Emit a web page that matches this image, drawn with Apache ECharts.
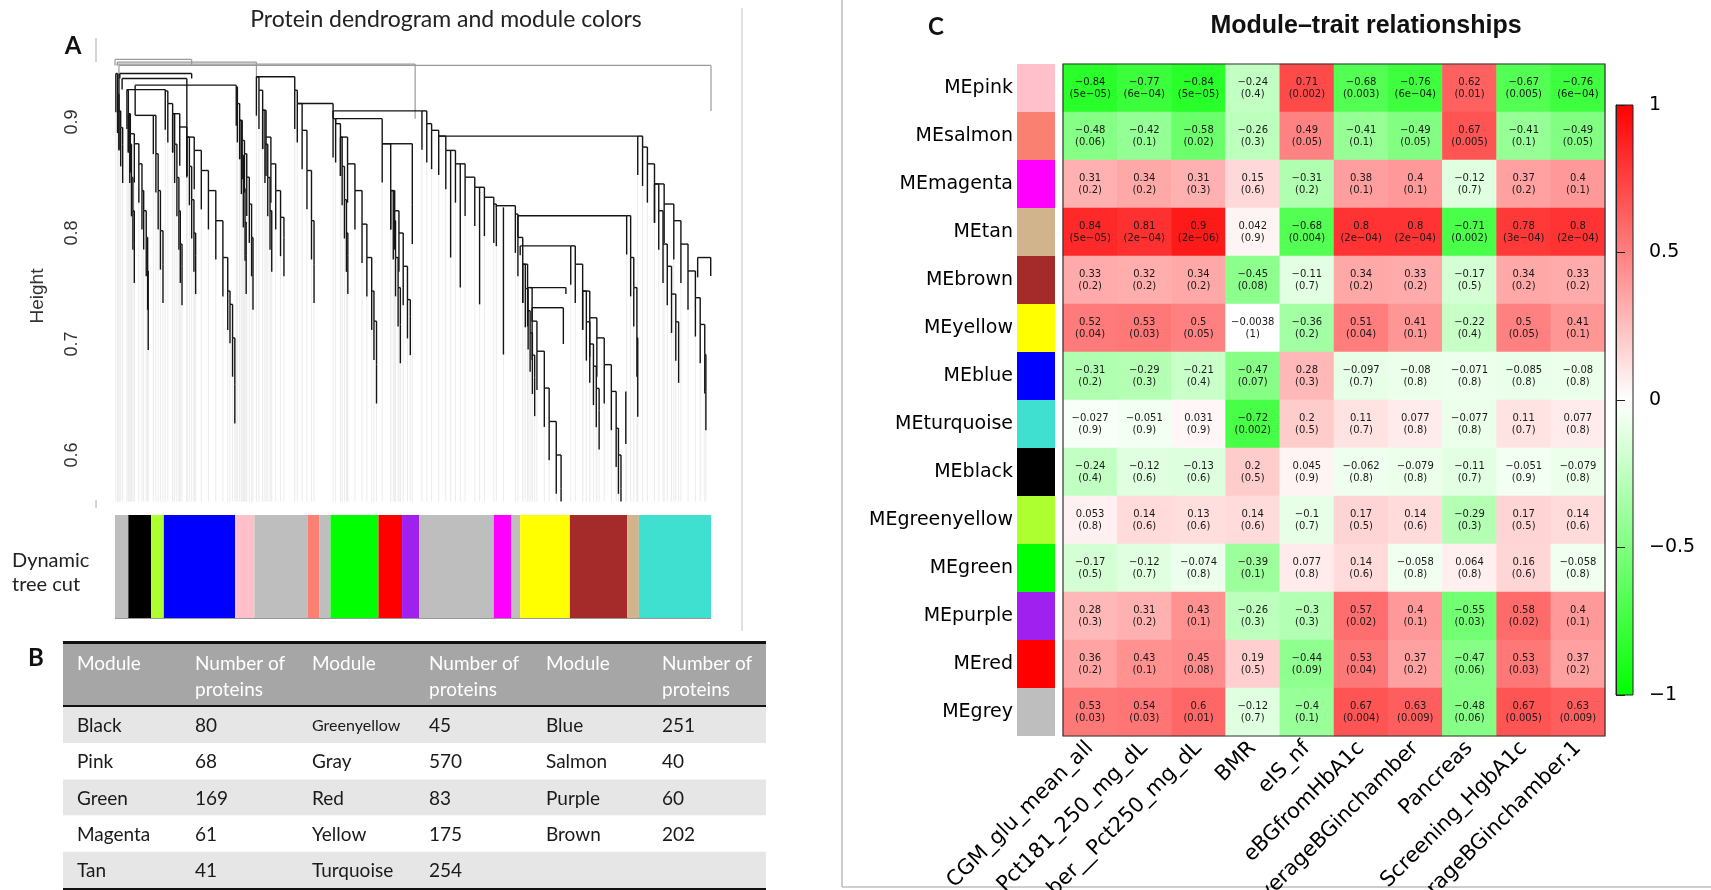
<!DOCTYPE html>
<html>
<head>
<meta charset="utf-8">
<title>Protein modules</title>
<script src="https://cdn.jsdelivr.net/npm/echarts@6/dist/echarts.min.js"></script>
<style>
  html, body { margin: 0; padding: 0; background: #fff; }
  #chart { width: 1711px; height: 890px; }
</style>
</head>
<body>
<div id="chart"></div>
<script>
// ---------- A: dendrogram (leaf index, merge height) ----------
const leafCount = 2099
const greyEdge = [[3, 0.9437], [9, 0.925], [14, 0.91], [20, 0.895], [27, 0.88]]
const blackBranch = [[42, 0.9286], [47, 0.9075], [54, 0.8894], [68, 0.8804], [84, 0.8623], [95, 0.8382], [101, 0.8201], [110, 0.796], [115, 0.7658], [117, 0.7297]]
const blackSide = [[47, 0.9075], [52, 0.88], [58, 0.85], [63, 0.82], [68, 0.79]]
const greenyellowBranch = [[135, 0.906], [144, 0.8714], [152, 0.8382], [160, 0.802], [169, 0.7719]]
const blueBranch = [[177, 0.928], [186, 0.9166], [203, 0.9075], [228, 0.8955], [253, 0.8864], [279, 0.8744], [304, 0.8563], [329, 0.8382], [355, 0.8111], [380, 0.7779], [397, 0.7477], [405, 0.7357], [414, 0.7055], [422, 0.6633]]
const blueSide1 = [[203, 0.9075], [210, 0.88], [218, 0.85], [225, 0.82], [230, 0.79], [236, 0.77]]
const blueSide2 = [[253, 0.8864], [262, 0.86], [270, 0.83], [278, 0.80], [284, 0.78]]
const pinkBranch = [[427, 0.9317], [431, 0.9166], [439, 0.9015], [448, 0.8834], [456, 0.8714], [464, 0.8503], [473, 0.8261], [481, 0.796], [486, 0.7658]]
const pinkSide = [[439, 0.9015], [445, 0.87], [452, 0.84], [458, 0.81], [462, 0.78]]
const midGreyBranch = [[498, 0.9407], [507, 0.9286], [520, 0.9106], [532, 0.8864], [549, 0.8623], [566, 0.8382], [583, 0.8141], [595, 0.796]]
const midGreySide = [[520, 0.9106], [528, 0.88], [538, 0.85], [546, 0.82], [552, 0.80]]
const salmonBranch = [[633, 0.9286], [642, 0.9166], [659, 0.8925], [676, 0.8563], [692, 0.8111], [701, 0.7719]]
const greenBranch = [[768, 0.903], [777, 0.8985], [794, 0.8864], [819, 0.8623], [845, 0.8382], [870, 0.808], [887, 0.7779], [904, 0.7477], [912, 0.7206], [921, 0.6814]]
const greenSide = [[794, 0.8864], [800, 0.86], [808, 0.83], [815, 0.80], [820, 0.78]]
const redBranch = [[941, 0.8804], [971, 0.8382], [980, 0.8111], [988, 0.7779], [997, 0.7508], [1005, 0.7176]]
const redSide = [[971, 0.8382], [985, 0.82], [1000, 0.80], [1015, 0.77], [1030, 0.74], [1040, 0.725]]
const greyBranch = [[1081, 0.91], [1098, 0.8985], [1115, 0.8925], [1140, 0.8873], [1165, 0.8744], [1199, 0.8623], [1233, 0.8503], [1267, 0.8412], [1301, 0.8322], [1334, 0.8261], [1343, 0.8231]]
const yellowBranch = [[1410, 0.8171], [1419, 0.796], [1436, 0.7719], [1453, 0.7508], [1469, 0.7206], [1486, 0.6935], [1512, 0.6603], [1529, 0.6302], [1554, 0.6], [1571, 0.5699]]
const yellowSide = [[1436, 0.7719], [1445, 0.75], [1455, 0.73], [1462, 0.71], [1470, 0.69], [1478, 0.67]]
const brownBranch = [[1605, 0.7884], [1621, 0.7719], [1647, 0.7477], [1672, 0.7236], [1697, 0.7055], [1723, 0.6814], [1748, 0.6573], [1765, 0.6241], [1773, 0.6], [1782, 0.5699]]
const brownSide = [[1647, 0.7477], [1660, 0.72], [1672, 0.70], [1685, 0.68], [1695, 0.66], [1705, 0.64]]
const tanBranch = [[1802, 0.8156], [1816, 0.7779], [1827, 0.7508], [1838, 0.7055], [1841, 0.6694]]
const turquoiseBranch = [[1841, 0.8873], [1858, 0.8774], [1875, 0.8623], [1900, 0.8442], [1934, 0.8261], [1968, 0.8111], [1993, 0.79], [2018, 0.7658], [2044, 0.7417], [2061, 0.7176], [2077, 0.6905], [2081, 0.6573]]
const turquoiseSide = [[1900, 0.8442], [1915, 0.82], [1930, 0.79], [1945, 0.77], [1960, 0.745], [1975, 0.72], [1985, 0.70]]

// [left leaf, right leaf, merge height, left child height, right child height]
const dendroMerges = [
    [0, 270, 0.9564, 0.951, 0.951], [8, 498, 0.954, 0.951, 0.9407], [8, 1057, 0.9522, 0.951, 0.903],
    [14, 2099, 0.951, 0.9437, 0.91], [17, 270, 0.9437, 0.9392, 0.9392], [25, 253, 0.9392, 0.9292, 0.8894],
    [42, 177, 0.9292, 0.9286, 0.928], [71, 427, 0.9332, 0.906, 0.9317], [71, 135, 0.906, 0.906, 0.906],
    [498, 633, 0.9407, 0.9407, 0.9286], [642, 768, 0.9166, 0.9166, 0.903], [768, 1081, 0.91, 0.903, 0.91],
    [777, 941, 0.903, 0.8985, 0.8804], [941, 1047, 0.8804, 0.8804, 0.826], [1140, 1841, 0.8873, 0.8873, 0.8873],
    [1343, 1410, 0.8246, 0.8231, 0.8171], [1419, 1802, 0.8156, 0.796, 0.8156], [1427, 1605, 0.7884, 0.78, 0.7884],
    [1461, 1588, 0.7508, 0.7508, 0.745], [1469, 1579, 0.7327, 0.72, 0.70], [2052, 2098, 0.7779, 0.76, 0.7613]
]
// long single stems [leaf, top, bottom]
const dendroStems = [[14, 0.9437, 0.8744], [253, 0.8894, 0.85], [1182, 0.8744, 0.7779], [1216, 0.8623, 0.7508], [1284, 0.8412, 0.7357], [1368, 0.8231, 0.6905], [1799, 0.6573, 0.61], [1047, 0.826, 0.79]]

// dynamic tree cut colour bar, left to right
const barModules = ['grey', 'black', 'greenyellow', 'blue', 'pink', 'grey', 'salmon', 'grey', 'green', 'red', 'purple', 'grey', 'magenta', 'grey', 'yellow', 'brown', 'tan', 'turquoise']
const barCounts = [47, 80, 45, 251, 68, 188, 40, 40, 169, 83, 60, 263, 61, 32, 175, 202, 41, 254]

// ---------- B: module sizes ----------
const tableModules1 = ['Black', 'Pink', 'Green', 'Magenta', 'Tan']
const tableCounts1 = [80, 68, 169, 61, 41]
const tableModules2 = ['Greenyellow', 'Gray', 'Red', 'Yellow', 'Turquoise']
const tableCounts2 = [45, 570, 83, 175, 254]
const tableModules3 = ['Blue', 'Salmon', 'Purple', 'Brown']
const tableCounts3 = [251, 40, 60, 202]

// ---------- C: module-trait correlations ----------
const traits = ['CGM_glu_mean_all', 'Pct181_250_mg_dL', 'Number__Pct250_mg_dL', 'BMR', 'eIS_nf', 'eBGfromHbA1c', 'AverageBGinchamber', 'Pancreas', 'Screening_HgbA1c', 'AverageBGinchamber.1']
const modules = ['MEpink', 'MEsalmon', 'MEmagenta', 'MEtan', 'MEbrown', 'MEyellow', 'MEblue', 'MEturquoise', 'MEblack', 'MEgreenyellow', 'MEgreen', 'MEpurple', 'MEred', 'MEgrey']
const corrValues = [
    [-0.84, -0.77, -0.84, -0.24, 0.71, -0.68, -0.76, 0.62, -0.67, -0.76],
    [-0.48, -0.42, -0.58, -0.26, 0.49, -0.41, -0.49, 0.67, -0.41, -0.49],
    [0.31, 0.34, 0.31, 0.15, -0.31, 0.38, 0.4, -0.12, 0.37, 0.4],
    [0.84, 0.81, 0.9, 0.042, -0.68, 0.8, 0.8, -0.71, 0.78, 0.8],
    [0.33, 0.32, 0.34, -0.45, -0.11, 0.34, 0.33, -0.17, 0.34, 0.33],
    [0.52, 0.53, 0.5, -0.0038, -0.36, 0.51, 0.41, -0.22, 0.5, 0.41],
    [-0.31, -0.29, -0.21, -0.47, 0.28, -0.097, -0.08, -0.071, -0.085, -0.08],
    [-0.027, -0.051, 0.031, -0.72, 0.2, 0.11, 0.077, -0.077, 0.11, 0.077],
    [-0.24, -0.12, -0.13, 0.2, 0.045, -0.062, -0.079, -0.11, -0.051, -0.079],
    [0.053, 0.14, 0.13, 0.14, -0.1, 0.17, 0.14, -0.29, 0.17, 0.14],
    [-0.17, -0.12, -0.074, -0.39, 0.077, 0.14, -0.058, 0.064, 0.16, -0.058],
    [0.28, 0.31, 0.43, -0.26, -0.3, 0.57, 0.4, -0.55, 0.58, 0.4],
    [0.36, 0.43, 0.45, 0.19, -0.44, 0.53, 0.37, -0.47, 0.53, 0.37],
    [0.53, 0.54, 0.6, -0.12, -0.4, 0.67, 0.63, -0.48, 0.67, 0.63]
]
const pValues = [
    ['5e-05', '6e-04', '5e-05', '0.4', '0.002', '0.003', '6e-04', '0.01', '0.005', '6e-04'],
    ['0.06', '0.1', '0.02', '0.3', '0.05', '0.1', '0.05', '0.005', '0.1', '0.05'],
    ['0.2', '0.2', '0.3', '0.6', '0.2', '0.1', '0.1', '0.7', '0.2', '0.1'],
    ['5e-05', '2e-04', '2e-06', '0.9', '0.004', '2e-04', '2e-04', '0.002', '3e-04', '2e-04'],
    ['0.2', '0.2', '0.2', '0.08', '0.7', '0.2', '0.2', '0.5', '0.2', '0.2'],
    ['0.04', '0.03', '0.05', '1', '0.2', '0.04', '0.1', '0.4', '0.05', '0.1'],
    ['0.2', '0.3', '0.4', '0.07', '0.3', '0.7', '0.8', '0.8', '0.8', '0.8'],
    ['0.9', '0.9', '0.9', '0.002', '0.5', '0.7', '0.8', '0.8', '0.7', '0.8'],
    ['0.4', '0.6', '0.6', '0.5', '0.9', '0.8', '0.8', '0.7', '0.9', '0.8'],
    ['0.8', '0.6', '0.6', '0.6', '0.7', '0.5', '0.6', '0.3', '0.5', '0.6'],
    ['0.5', '0.7', '0.8', '0.1', '0.8', '0.6', '0.8', '0.8', '0.6', '0.8'],
    ['0.3', '0.2', '0.1', '0.3', '0.3', '0.02', '0.1', '0.03', '0.02', '0.1'],
    ['0.2', '0.1', '0.08', '0.5', '0.09', '0.04', '0.2', '0.06', '0.03', '0.2'],
    ['0.03', '0.03', '0.01', '0.7', '0.1', '0.004', '0.009', '0.06', '0.005', '0.009']
]

// R colour names
const rColors = {
    grey: '#bebebe', black: '#000000', greenyellow: '#adff2f', blue: '#0000ff', pink: '#ffc0cb',
    salmon: '#fa8072', green: '#00ff00', red: '#ff0000', purple: '#a020f0', magenta: '#ff00ff',
    yellow: '#ffff00', brown: '#a52a2a', tan: '#d2b48c', turquoise: '#40e0d0'
}

const minus = s => String(s).replace(/-/g, '\u2212')

// ---- build dendrogram segments ----
const HANG = 0.035
const LEAF_BASE = 0.558
const segBlack = []
const segGrey = []
const segLeaf = []
const branches = [greyEdge, blackBranch, blackSide, greenyellowBranch, blueBranch, blueSide1, blueSide2,
    pinkBranch, pinkSide, midGreyBranch, midGreySide, salmonBranch, greenBranch, greenSide, redBranch, redSide,
    greyBranch, yellowBranch, yellowSide, brownBranch, brownSide, tanBranch, turquoiseBranch, turquoiseSide]
branches.forEach(b => {
    b.forEach(([x, h], i) => {
        if (i < b.length - 1) {
            const [nx, nh] = b[i + 1]
            segBlack.push([x, h, nx, h], [nx, h, nx, nh])
        }
        const tip = Math.max(h - HANG, LEAF_BASE)
        segBlack.push([x, h, x, tip])
        if (tip > LEAF_BASE) segLeaf.push([x, tip, x, LEAF_BASE])
    })
})
dendroMerges.forEach(([xl, xr, h, hl, hr]) => {
    const seg = h > 0.945 ? segGrey : segBlack
    seg.push([xl, h, xr, h], [xl, h, xl, hl], [xr, h, xr, hr])
})
dendroStems.forEach(([x, t, b]) => {
    segBlack.push([x, t, x, b])
    segLeaf.push([x, b, x, LEAF_BASE])
})

let acc = 0
const barSegments = barModules.map((m, i) => {
    const start = acc
    acc += barCounts[i]
    return [start, acc, i]
})

const heatData = []
corrValues.forEach((row, r) => row.forEach((v, c) => heatData.push([c, r, v])))

const segmentSeries = (data, color, width, z) => ({
    type: 'custom',
    xAxisIndex: 0,
    yAxisIndex: 0,
    silent: true,
    z,
    data,
    encode: { x: [0, 2], y: [1, 3] },
    renderItem: (params, api) => {
        const a = api.coord([api.value(0), api.value(1)])
        const b = api.coord([api.value(2), api.value(3)])
        return {
            type: 'line',
            shape: { x1: a[0], y1: a[1], x2: b[0], y2: b[1] },
            style: { stroke: color, lineWidth: width }
        }
    }
})

// ---- table B as graphic ----
const tableLeft = 63
const tableWidth = 703
const tableCols = [77, 195, 312, 429, 546, 662]
const rowTop = 707
const rowH = 36.2
const tableFont = '19px Lato'
const tableGraphics = [
    { type: 'rect', shape: { x: tableLeft, y: 643, width: tableWidth, height: 63 }, style: { fill: '#a6a6a6' } },
    { type: 'rect', shape: { x: tableLeft, y: 641, width: tableWidth, height: 3 }, style: { fill: '#111' } },
    { type: 'rect', shape: { x: tableLeft, y: 705, width: tableWidth, height: 2 }, style: { fill: '#111' } }
]
for (let i = 0; i < 5; i++) {
    tableGraphics.push({
        type: 'rect',
        shape: { x: tableLeft, y: rowTop + i * rowH, width: tableWidth, height: rowH },
        style: { fill: i % 2 === 0 ? '#e6e6e6' : '#ffffff' }
    })
}
tableGraphics.push({ type: 'rect', shape: { x: tableLeft, y: rowTop + 5 * rowH, width: tableWidth, height: 2 }, style: { fill: '#111' } })
const headerText = (x, y, text) => ({
    type: 'text', x, y, z: 10,
    style: { text, font: tableFont, fill: '#ffffff', textAlign: 'left', verticalAlign: 'middle' }
})
;[0, 2, 4].forEach(k => {
    tableGraphics.push(headerText(tableCols[k], 664, 'Module'))
    tableGraphics.push(headerText(tableCols[k + 1], 664, 'Number of'))
    tableGraphics.push(headerText(tableCols[k + 1], 690, 'proteins'))
})
const cellText = (x, y, text) => ({
    type: 'text', x, y, z: 10,
    style: {
        text: String(text),
        font: String(text).length > 10 ? '16px Lato' : tableFont,
        fill: '#1a1a1a', textAlign: 'left', verticalAlign: 'middle'
    }
})
const tableSets = [[tableModules1, tableCounts1], [tableModules2, tableCounts2], [tableModules3, tableCounts3]]
tableSets.forEach(([names, counts], k) => {
    names.forEach((name, i) => {
        const y = rowTop + i * rowH + rowH / 2 + 1
        tableGraphics.push(cellText(tableCols[2 * k], y, name))
        tableGraphics.push(cellText(tableCols[2 * k + 1], y, counts[i]))
    })
})

const chart = echarts.init(document.getElementById('chart'))

const option = {
    animation: false,
    backgroundColor: '#ffffff',
    grid: [
        { left: 115, top: 11, width: 596, height: 555, outerBoundsMode: 'none' },
        { left: 115, top: 515, width: 596, height: 103, outerBoundsMode: 'none' },
        { left: 1063, top: 64, width: 542, height: 672, outerBoundsMode: 'none' },
        {
            left: 1616, top: 105, width: 17, height: 590, outerBoundsMode: 'none',
            show: true, borderColor: '#222', borderWidth: 1,
            backgroundColor: new echarts.graphic.LinearGradient(0, 0, 0, 1, [
                { offset: 0, color: '#ff0000' },
                { offset: 0.5, color: '#ffffff' },
                { offset: 1, color: '#00ff00' }
            ])
        },
        { left: 1017, top: 64, width: 38, height: 672, outerBoundsMode: 'none' }
    ],
    xAxis: [
        { gridIndex: 0, type: 'value', min: 0, max: leafCount, show: false },
        { gridIndex: 1, type: 'value', min: 0, max: leafCount, show: false },
        {
            gridIndex: 2, type: 'category', data: traits, position: 'bottom',
            axisLine: { show: false }, axisTick: { show: false }, splitLine: { show: false },
            axisLabel: { interval: 0, rotate: 45, margin: 9, fontSize: 21, fontFamily: 'DejaVu Sans', color: '#000' }
        },
        { gridIndex: 3, type: 'value', min: 0, max: 1, show: false },
        { gridIndex: 4, type: 'value', min: 0, max: 1, show: false }
    ],
    yAxis: [
        {
            gridIndex: 0, type: 'value', min: 0.5, max: 1.0, interval: 0.1,
            axisLine: { show: false }, axisTick: { show: false }, splitLine: { show: false },
            axisLabel: {
                rotate: 90, margin: 34, fontSize: 18, fontFamily: 'Liberation Sans', color: '#333',
                formatter: v => (v < 0.55 || v > 0.95) ? '' : v.toFixed(1)
            }
        },
        { gridIndex: 1, type: 'value', min: 0, max: 1, show: false },
        { gridIndex: 2, type: 'category', data: modules, inverse: true, show: false },
        {
            gridIndex: 3, type: 'value', min: -1, max: 1, interval: 0.5, position: 'right',
            axisLine: { show: true, lineStyle: { color: '#222' } },
            axisTick: { show: true, inside: false, length: 9, lineStyle: { color: '#222' } },
            splitLine: { show: false },
            axisLabel: { margin: 16, fontSize: 19, fontFamily: 'DejaVu Sans', color: '#000', formatter: v => minus(v) }
        },
        {
            gridIndex: 4, type: 'category', data: modules, inverse: true,
            axisLine: { show: false }, axisTick: { show: false }, splitLine: { show: false },
            axisLabel: { margin: 4, fontSize: 19, fontFamily: 'DejaVu Sans', color: '#000' }
        }
    ],
    visualMap: {
        type: 'continuous', show: false, min: -1, max: 1, seriesIndex: 4, dimension: 2,
        inRange: { color: ['#00ff00', '#ffffff', '#ff0000'] }
    },
    series: [
        segmentSeries(segLeaf, '#ececec', 1, 1),
        segmentSeries(segGrey, '#9a9a9a', 1.2, 2),
        segmentSeries(segBlack, '#141414', 1.4, 3),
        {
            type: 'custom',
            xAxisIndex: 1,
            yAxisIndex: 1,
            silent: true,
            data: barSegments,
            encode: { x: [0, 1] },
            renderItem: (params, api) => {
                const p0 = api.coord([api.value(0), 1])
                const p1 = api.coord([api.value(1), 0])
                return {
                    type: 'rect',
                    shape: { x: p0[0], y: p0[1], width: p1[0] - p0[0], height: p1[1] - p0[1] },
                    style: { fill: rColors[barModules[api.value(2)]] }
                }
            }
        },
        {
            type: 'heatmap',
            xAxisIndex: 2,
            yAxisIndex: 2,
            data: heatData,
            silent: true,
            label: {
                show: true,
                fontSize: 10,
                lineHeight: 12,
                fontFamily: 'DejaVu Sans',
                color: '#1a1a1a',
                formatter: p => minus(p.value[2]) + '\n(' + minus(pValues[p.value[1]][p.value[0]]) + ')'
            },
            emphasis: { disabled: true }
        },
        {
            type: 'bar',
            xAxisIndex: 4,
            yAxisIndex: 4,
            silent: true,
            barCategoryGap: '0%',
            data: modules.map(m => ({ value: 1, itemStyle: { color: rColors[m.slice(2)] } }))
        }
    ],
    graphic: [
        // panel frames
        { type: 'line', shape: { x1: 742, y1: 8, x2: 742, y2: 631 }, style: { stroke: '#cfcfcf', lineWidth: 1.2 } },
        { type: 'line', shape: { x1: 842, y1: 0, x2: 842, y2: 887 }, style: { stroke: '#bdbdbd', lineWidth: 1.5 } },
        { type: 'line', shape: { x1: 842, y1: 887, x2: 1711, y2: 887 }, style: { stroke: '#bdbdbd', lineWidth: 1.5 } },
        // A
        { type: 'text', x: 446, y: 20, style: { text: 'Protein dendrogram and module colors', font: '23px Lato', fill: '#222', textAlign: 'center', verticalAlign: 'middle' } },
        { type: 'text', x: 73, y: 46, style: { text: 'A', font: 'bold 24px Lato', fill: '#111', textAlign: 'center', verticalAlign: 'middle' } },
        { type: 'text', x: 38, y: 296, rotation: Math.PI / 2, style: { text: 'Height', font: '19px "Liberation Sans"', fill: '#333', textAlign: 'center', verticalAlign: 'middle' } },
        { type: 'line', shape: { x1: 96, y1: 38, x2: 96, y2: 62 }, style: { stroke: '#aaa', lineWidth: 1 } },
        { type: 'line', shape: { x1: 96, y1: 500, x2: 96, y2: 508 }, style: { stroke: '#aaa', lineWidth: 1 } },
        { type: 'text', x: 12, y: 561, style: { text: 'Dynamic', font: '20px Lato', fill: '#222', textAlign: 'left', verticalAlign: 'middle' } },
        { type: 'text', x: 12, y: 585, style: { text: 'tree cut', font: '20px Lato', fill: '#222', textAlign: 'left', verticalAlign: 'middle' } },
        { type: 'line', shape: { x1: 115, y1: 618, x2: 711, y2: 618 }, style: { stroke: '#777', lineWidth: 1.5 } },
        // B
        { type: 'text', x: 36, y: 658, style: { text: 'B', font: 'bold 24px Lato', fill: '#111', textAlign: 'center', verticalAlign: 'middle' } },
        ...tableGraphics,
        // C
        { type: 'text', x: 936, y: 27, style: { text: 'C', font: 'bold 24px Lato', fill: '#111', textAlign: 'center', verticalAlign: 'middle' } },
        { type: 'text', x: 1366, y: 26, style: { text: 'Module\u2013trait relationships', font: 'bold 25px "Liberation Sans"', fill: '#111', textAlign: 'center', verticalAlign: 'middle' } },
        { type: 'rect', z: 100, shape: { x: 1063, y: 64, width: 542, height: 672 }, style: { fill: 'none', stroke: '#333', lineWidth: 1.2 } }
    ]
}

chart.setOption(option)
window.addEventListener('resize', () => chart.resize())
</script>
</body>
</html>
